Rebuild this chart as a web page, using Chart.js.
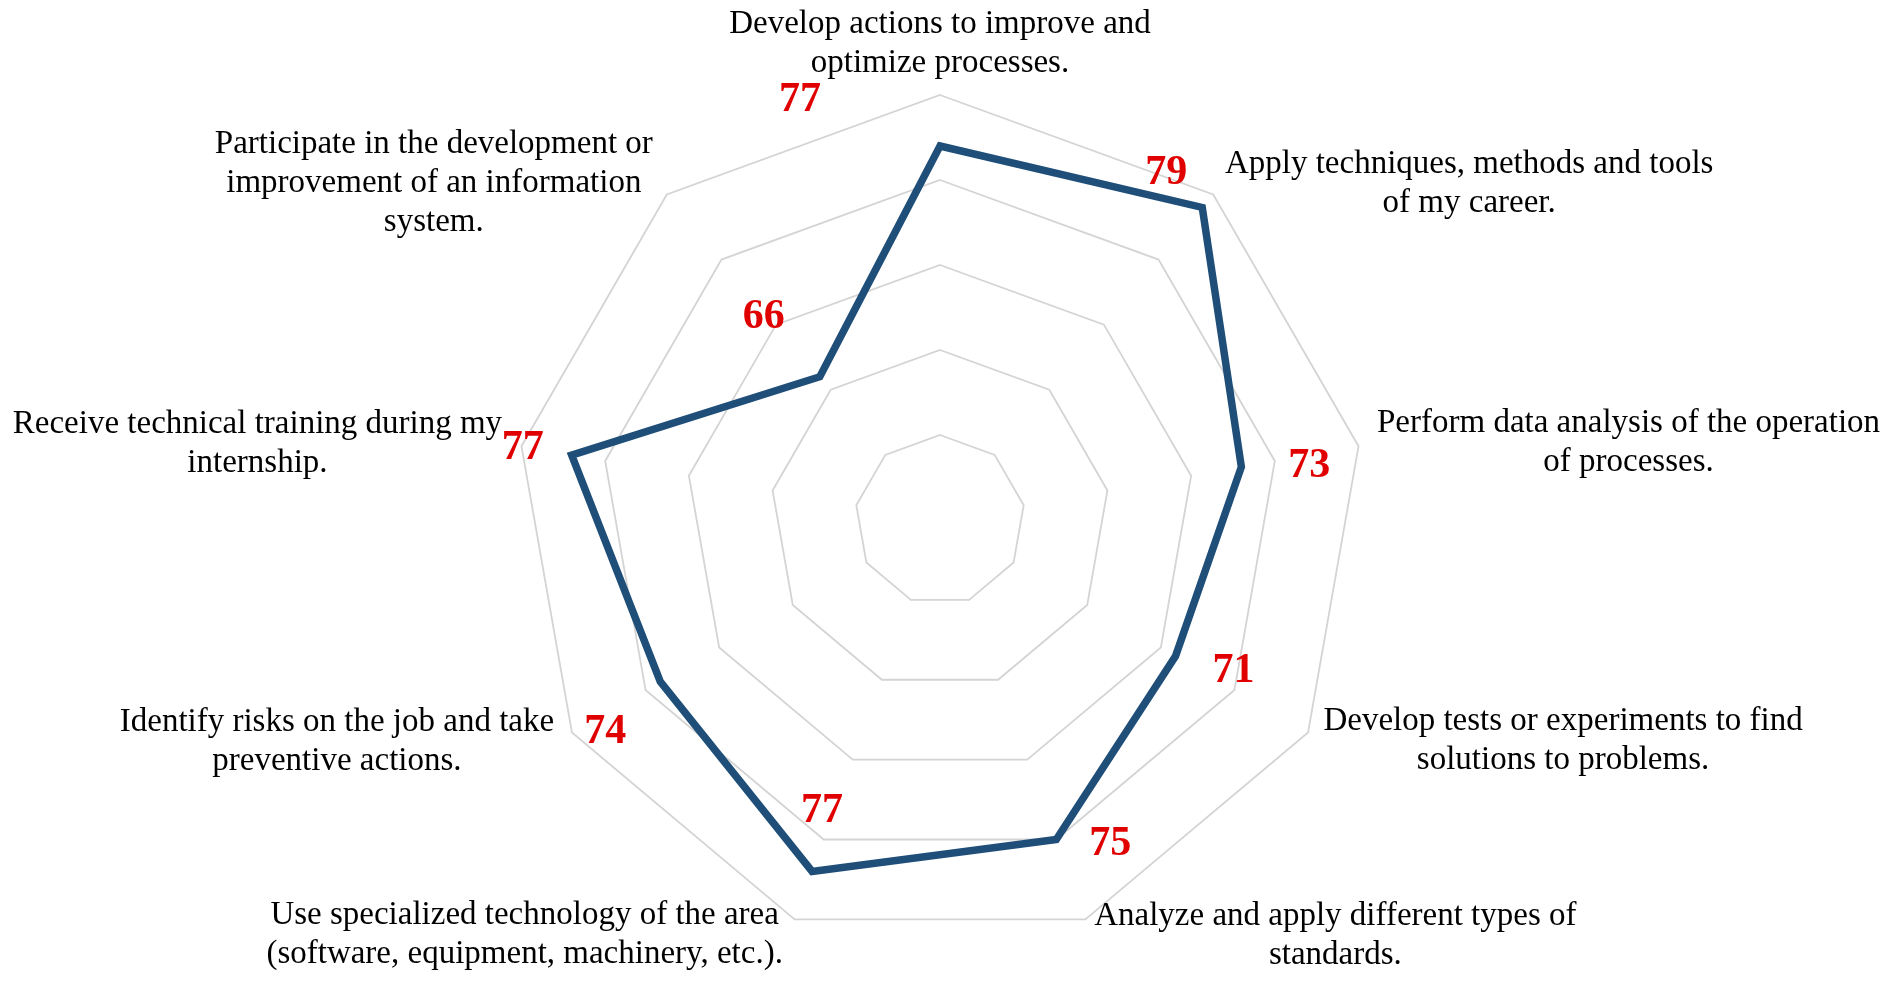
<!DOCTYPE html>
<html>
<head>
<meta charset="utf-8">
<script src="https://cdn.jsdelivr.net/npm/chart.js@4.4.1/dist/chart.umd.min.js"></script>
<style>
  html, body { margin: 0; padding: 0; background: #fff; }
  #wrap { width: 1901px; height: 983px; position: relative; }
</style>
</head>
<body>
<div id="wrap"><canvas id="radar"></canvas></div>
<script>
// categories, clockwise from the top
const categories = [
  ['Develop actions to improve and', 'optimize processes.'],
  ['Apply techniques, methods and tools', 'of my career.'],
  ['Perform data analysis of the operation', 'of processes.'],
  ['Develop tests or experiments to find', 'solutions to problems.'],
  ['Analyze and apply different types of', 'standards.'],
  ['Use specialized technology of the area', '(software, equipment, machinery, etc.).'],
  ['Identify risks on the job and take', 'preventive actions.'],
  ['Receive technical training during my', 'internship.'],
  ['Participate in the development or', 'improvement of an information', 'system.']
]
const scores = [77, 79, 73, 71, 75, 77, 74, 77, 66]
const scale_min = 55
const scale_max = 80
const scale_step = 5

// where the texts sit (offsets in px)
const category_offsets = [[0, -51], [256, -11], [270, -3], [255, 8], [250, 16], [-270, 15], [-235, 9], [-264, -2], [-233, -11]]
const value_offsets = [[-140, -49], [-36, -37], [68, -4], [58, 12], [54, 2], [10, -63], [-55, 47], [-49, -10], [-56, -63]]

const category_labels = {
  id: 'category_labels',
  afterDraw(chart) {
    const scale = chart.scales.r
    const ctx = chart.ctx
    ctx.save()
    ctx.font = '33px "Liberation Serif"'
    ctx.fillStyle = '#000'
    ctx.textAlign = 'center'
    ctx.textBaseline = 'middle'
    const line_height = 39
    categories.forEach((lines, i) => {
      const p = scale.getPointPosition(i, scale.drawingArea)
      const cx = p.x + category_offsets[i][0]
      const cy = p.y + category_offsets[i][1]
      const top = cy - (lines.length - 1) * line_height / 2
      lines.forEach((line, j) => ctx.fillText(line, cx, top + j * line_height))
    })
    ctx.restore()
  }
}

const value_labels = {
  id: 'value_labels',
  afterDatasetsDraw(chart) {
    const ctx = chart.ctx
    const points = chart.getDatasetMeta(0).data
    ctx.save()
    ctx.font = 'bold 42px "Liberation Serif"'
    ctx.fillStyle = '#e00000'
    ctx.textAlign = 'center'
    ctx.textBaseline = 'alphabetic'
    points.forEach((pt, i) => {
      ctx.fillText(String(scores[i]), pt.x + value_offsets[i][0], pt.y + value_offsets[i][1] + 14)
    })
    ctx.restore()
  }
}

function make_chart(){
  const canvas = document.getElementById('radar')
  return new Chart(canvas, {
    type: 'radar',
    data: {
      labels: categories,
      datasets: [
        {
          data: scores,
          borderColor: '#1f4e79',
          borderWidth: 7.5,
          borderJoinStyle: 'miter',
          fill: false,
          pointRadius: 0,
          pointHoverRadius: 0,
          tension: 0
        }
      ]
    },
    options: {
      responsive: true,
      maintainAspectRatio: false,
      animation: false,
      layout: {
        padding: { top: 95, bottom: 38, left: 0, right: 21 }
      },
      plugins: {
        legend: { display: false },
        tooltip: { enabled: false }
      },
      scales: {
        r: {
          min: scale_min,
          max: scale_max,
          ticks: { stepSize: scale_step, display: false },
          angleLines: { display: false },
          pointLabels: { display: false },
          grid: { color: '#d4d4d4', lineWidth: 1.8 }
        }
      }
    },
    plugins: [category_labels, value_labels]
  })
}

let chart = make_chart()
</script>
</body>
</html>
